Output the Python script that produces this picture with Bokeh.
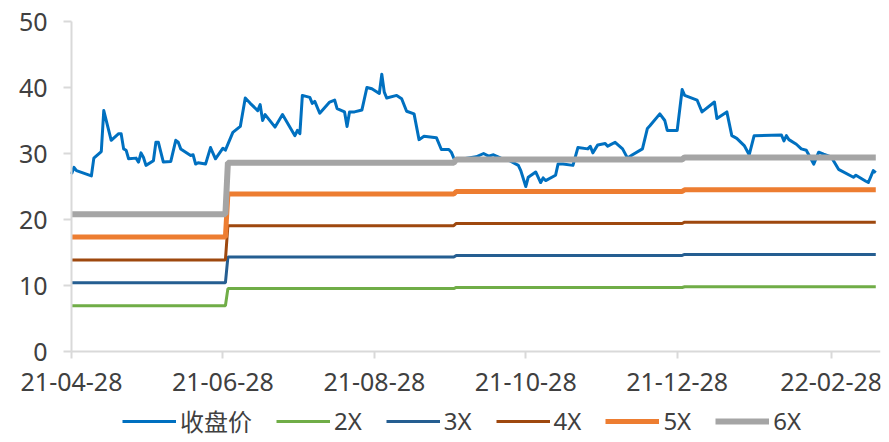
from datetime import datetime, timedelta

import pandas as pd
from bokeh.embed import file_html
from bokeh.models import (DatetimeTickFormatter, FixedTicker, Legend,
                          LegendItem, Range1d)
from bokeh.plotting import figure
from bokeh.resources import INLINE

# Closing price (收盘价) turning points
price_dates = [
    "2021-04-28", "2021-04-29", "2021-04-30", "2021-05-06", "2021-05-07",
    "2021-05-10", "2021-05-11", "2021-05-14", "2021-05-17", "2021-05-18",
    "2021-05-19", "2021-05-20", "2021-05-21", "2021-05-24", "2021-05-25",
    "2021-05-26", "2021-05-27", "2021-05-28", "2021-05-31", "2021-06-01",
    "2021-06-02", "2021-06-04", "2021-06-07", "2021-06-09", "2021-06-10",
    "2021-06-11", "2021-06-15", "2021-06-16", "2021-06-17", "2021-06-18",
    "2021-06-21", "2021-06-23", "2021-06-25", "2021-06-28", "2021-06-29",
    "2021-07-02", "2021-07-05", "2021-07-07", "2021-07-09", "2021-07-12",
    "2021-07-13", "2021-07-14", "2021-07-15", "2021-07-19", "2021-07-22",
    "2021-07-27", "2021-07-28", "2021-07-29", "2021-07-30", "2021-08-02",
    "2021-08-03", "2021-08-04", "2021-08-06", "2021-08-10", "2021-08-12",
    "2021-08-13", "2021-08-16", "2021-08-17", "2021-08-18", "2021-08-20",
    "2021-08-23", "2021-08-25", "2021-08-27", "2021-08-30", "2021-08-31",
    "2021-09-01", "2021-09-02", "2021-09-06", "2021-09-08", "2021-09-10",
    "2021-09-13", "2021-09-15", "2021-09-17", "2021-09-22", "2021-09-24",
    "2021-09-27", "2021-09-28", "2021-09-29", "2021-09-30", "2021-10-08",
    "2021-10-11", "2021-10-13", "2021-10-15", "2021-10-18", "2021-10-21",
    "2021-10-25", "2021-10-26", "2021-10-28", "2021-10-29", "2021-11-01",
    "2021-11-03", "2021-11-04", "2021-11-05", "2021-11-09", "2021-11-10",
    "2021-11-12", "2021-11-16", "2021-11-18", "2021-11-22", "2021-11-23",
    "2021-11-24", "2021-11-26", "2021-11-29", "2021-11-30", "2021-12-01",
    "2021-12-03", "2021-12-06", "2021-12-08", "2021-12-10", "2021-12-14",
    "2021-12-16", "2021-12-17", "2021-12-21", "2021-12-23", "2021-12-24",
    "2021-12-28", "2021-12-30", "2021-12-31", "2022-01-05", "2022-01-07",
    "2022-01-12", "2022-01-13", "2022-01-17", "2022-01-19", "2022-01-21",
    "2022-01-24", "2022-01-26", "2022-01-28", "2022-02-08", "2022-02-09",
    "2022-02-10", "2022-02-11", "2022-02-14", "2022-02-16", "2022-02-18",
    "2022-02-21", "2022-02-23", "2022-02-25", "2022-02-28", "2022-03-03",
    "2022-03-09", "2022-03-10", "2022-03-14", "2022-03-15", "2022-03-17",
    "2022-03-18",
]
price_close = [
    26.9, 27.9, 27.4, 26.6, 29.3,
    30.3, 36.5, 32.0, 33.0, 33.0,
    30.7, 30.5, 29.2, 29.3, 28.7,
    30.1, 29.4, 28.2, 28.9, 31.7,
    31.7, 28.7, 28.8, 32.0, 31.7,
    30.7, 29.7, 29.8, 28.4, 28.6,
    28.4, 30.9, 29.2, 30.8, 30.5,
    33.2, 34.1, 38.4, 37.6, 36.5,
    37.4, 35.0, 35.9, 34.0, 35.9,
    32.7, 33.5, 33.0, 38.8, 38.5,
    37.6, 37.9, 36.1, 37.8, 38.1,
    36.8, 36.3, 34.1, 36.3, 36.3,
    36.6, 40.0, 39.8, 39.1, 42.0,
    39.3, 38.4, 38.8, 38.3, 36.4,
    36.0, 32.1, 32.6, 32.4, 30.6,
    30.6, 30.2, 29.3, 29.0, 29.5,
    30.0, 29.6, 29.8, 29.3, 29.0,
    28.2, 27.4, 25.0, 26.4, 27.2,
    25.6, 26.3, 25.9, 26.7, 28.4,
    28.4, 28.2, 30.9, 30.7, 31.1,
    30.1, 31.3, 31.5, 31.1, 31.3,
    31.7, 30.7, 29.3, 29.8, 30.7,
    33.8, 34.2, 36.0, 35.0, 33.5,
    33.5, 39.7, 38.8, 38.1, 36.3,
    37.8, 35.3, 36.3, 32.7, 32.3,
    31.2, 29.8, 32.7, 32.8, 31.9,
    32.7, 32.1, 31.4, 30.7, 30.5,
    28.4, 30.2, 29.9, 29.5, 27.6,
    26.4, 26.7, 25.8, 25.6, 27.4,
    27.1,
]

# PE band periods and the band value in each period
period_starts = ["2021-04-28", "2021-06-30", "2021-09-30", "2021-12-31"]
period_ends = ["2021-06-29", "2021-09-29", "2021-12-30", "2022-03-18"]
band_labels = ["2X", "3X", "4X", "5X", "6X"]
band_2x = [6.93, 9.53, 9.70, 9.80]
band_3x = [10.40, 14.30, 14.55, 14.70]
band_4x = [13.87, 19.07, 19.40, 19.60]
band_5x = [17.33, 23.85, 24.25, 24.50]
band_6x = [20.80, 28.60, 29.10, 29.40]

tick_dates = ["2021-04-28", "2021-06-28", "2021-08-28",
              "2021-10-28", "2021-12-28", "2022-02-28"]
y_ticks = [0, 10, 20, 30, 40, 50]

TICK_FONT = "Noto Sans"
LEGEND_FONT = "Noto Sans, Noto Sans CJK SC"
TEXT_COLOR = "#404040"
AXIS_COLOR = "#D9D9D9"

# Layout: the frame fills the whole canvas; both axes are pinned at the
# origin (first date, zero) so labels and legend live inside the frame.
WIDTH, HEIGHT = 889, 442
TOP_PAD = 21            # pixels above the 50 line
BOTTOM_PAD = 91         # pixels below the zero line
PX_PER_UNIT = 330 / 50
Y_TOP = 50 + TOP_PAD / PX_PER_UNIT
Y_BOTTOM = 0 - BOTTOM_PAD / PX_PER_UNIT
LEFT_PAD = 71
RIGHT_PAD = 9
X_START = datetime(2021, 4, 28)
X_END = X_START + timedelta(days=325.9)
PX_PER_DAY = (WIDTH - LEFT_PAD - RIGHT_PAD) / 325.9
X_LEFT = X_START - timedelta(days=LEFT_PAD / PX_PER_DAY)


def step_series(values):
    xs, ys = [], []
    for s, e, v in zip(period_starts, period_ends, values):
        xs += [pd.Timestamp(s), pd.Timestamp(e)]
        ys += [v, v]
    return xs, ys


p = figure(
    width=WIDTH, height=HEIGHT,
    x_axis_type="datetime",
    output_backend="svg", toolbar_location=None,
    x_range=Range1d(X_LEFT, X_END),
    y_range=Range1d(Y_BOTTOM, Y_TOP),
    min_border_left=0, min_border_right=RIGHT_PAD,
    min_border_top=0, min_border_bottom=0,
)
p.outline_line_color = None
p.grid.visible = False
p.background_fill_color = "white"
p.border_fill_color = "white"

r_price = p.line([pd.Timestamp(d) for d in price_dates], price_close,
                 line_color="#0070C0", line_width=3, line_join="round")

band_values = [band_2x, band_3x, band_4x, band_5x, band_6x]
band_colors = ["#70AD47", "#255E91", "#9E480E", "#ED7D31", "#A5A5A5"]
band_widths = [3, 3, 3, 5, 6]
band_renderers = []
for vals, col, w in zip(band_values, band_colors, band_widths):
    xs, ys = step_series(vals)
    band_renderers.append(p.line(xs, ys, line_color=col, line_width=w))

epoch = datetime(1970, 1, 1)
p.xaxis.ticker = FixedTicker(
    ticks=[(datetime.fromisoformat(d) - epoch).total_seconds() * 1000 for d in tick_dates])
fmt = "%y-%m-%d"
p.xaxis.formatter = DatetimeTickFormatter(
    milliseconds=fmt, seconds=fmt, minsec=fmt, minutes=fmt, hourmin=fmt,
    hours=fmt, days=fmt, months=fmt, years=fmt, context=None)
p.xaxis.fixed_location = 0
p.xaxis.bounds = (X_START, X_END)
p.yaxis.ticker = FixedTicker(ticks=y_ticks)
p.yaxis.fixed_location = (X_START - epoch).total_seconds() * 1000
p.yaxis.bounds = (0, 50)

for ax in (p.xaxis[0], p.yaxis[0]):
    ax.axis_line_color = AXIS_COLOR
    ax.axis_line_width = 2
    ax.major_tick_line_color = AXIS_COLOR
    ax.major_tick_line_width = 2
    ax.major_tick_in = 0
    ax.minor_tick_line_color = None
    ax.major_label_text_font = TICK_FONT
    ax.major_label_text_font_size = "25px"
    ax.major_label_text_color = TEXT_COLOR
p.xaxis.major_tick_out = 7
p.xaxis.major_label_standoff = 14
p.yaxis.major_tick_out = 8
p.yaxis.major_label_standoff = 16

items = [LegendItem(label="收盘价", renderers=[r_price])]
items += [LegendItem(label=lab, renderers=[r]) for lab, r in zip(band_labels, band_renderers)]
legend = Legend(
    items=items, orientation="horizontal", location=(LEFT_PAD + 51, 4),
    glyph_width=54, glyph_height=30, label_height=30, label_standoff=4, spacing=24,
    padding=0, margin=0, border_line_color=None, background_fill_alpha=0,
    label_text_font=LEGEND_FONT, label_text_font_size="24px", label_text_color=TEXT_COLOR,
)
p.add_layout(legend)

open("out.html", "w").write(file_html(p, INLINE))
